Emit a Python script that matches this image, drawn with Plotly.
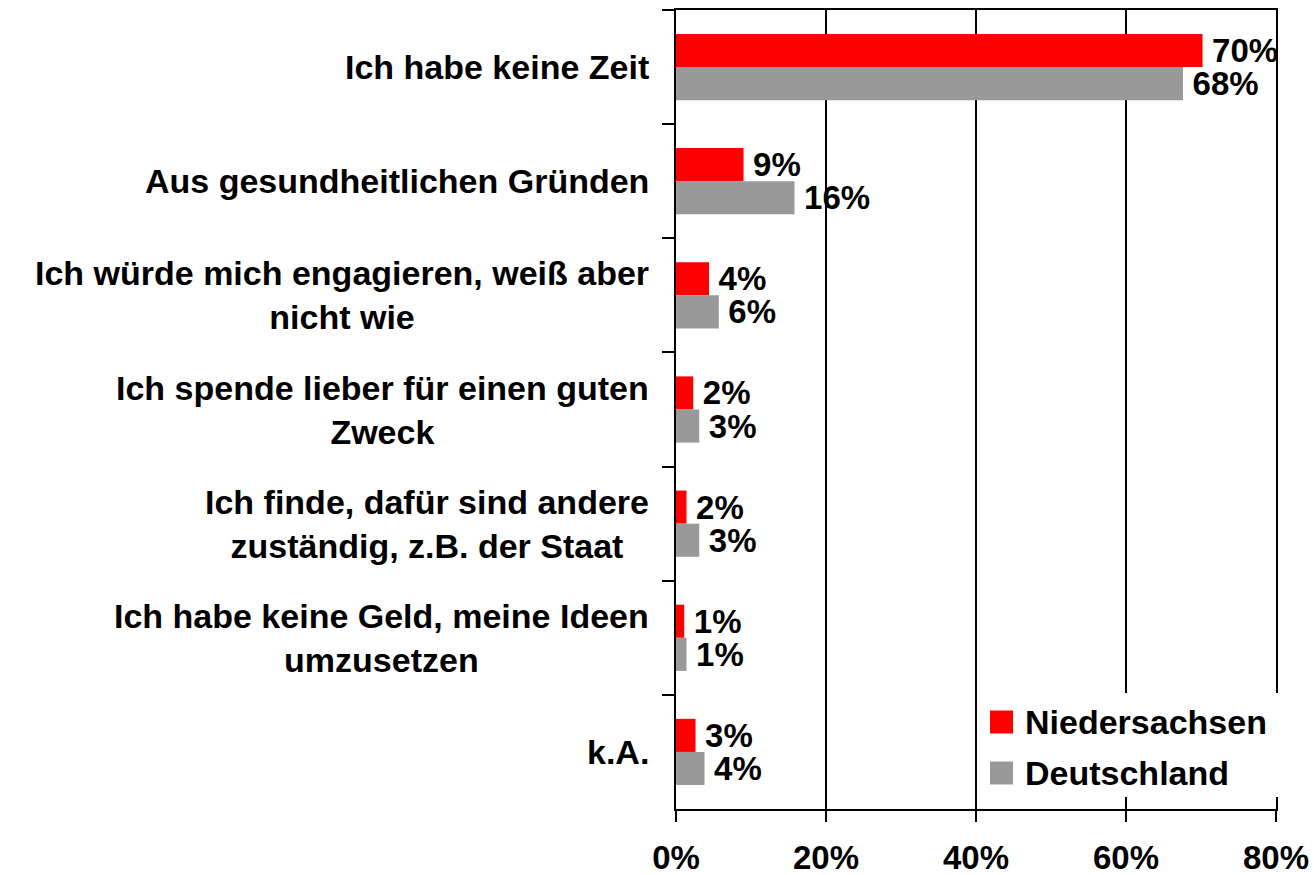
import plotly.graph_objects as go

categories = [
    "Ich habe keine Zeit",
    "Aus gesundheitlichen Gründen",
    "Ich würde mich engagieren, weiß aber<br>nicht wie",
    "Ich spende lieber für einen guten<br>Zweck",
    "Ich finde, dafür sind andere<br>zuständig, z.B. der Staat",
    "Ich habe keine Geld, meine Ideen<br>umzusetzen",
    "k.A.",
]
niedersachsen = [70.2, 9.0, 4.4, 2.3, 1.4, 1.1, 2.6]
deutschland = [67.6, 15.8, 5.7, 3.1, 3.1, 1.4, 3.8]
niedersachsen_labels = ["70%", "9%", "4%", "2%", "2%", "1%", "3%"]
deutschland_labels = ["68%", "16%", "6%", "3%", "3%", "1%", "4%"]
series_names = ["Niedersachsen", "Deutschland"]
x_ticks = [0, 20, 40, 60, 80]
x_ticklabels = ["0%", "20%", "40%", "60%", "80%"]

RED = "#FF0000"
GRAY = "#999999"
FONT = "Liberation Sans"

W, H = 1314, 875
ML, MR, MT, MB = 676, 38, 10, 66
PW, PH = W - ML - MR, H - MT - MB


def px_x(px):
    return (px - ML) / PW


def px_y(py):
    return (H - MB - py) / PH


GAP = "\u2009"
fig = go.Figure()
for name, vals, labs, col in [
    (series_names[0], niedersachsen, niedersachsen_labels, RED),
    (series_names[1], deutschland, deutschland_labels, GRAY),
]:
    fig.add_trace(go.Bar(
        name=name, y=categories, x=vals, orientation="h",
        marker=dict(color=col, line=dict(width=0)),
        text=[GAP + t for t in labs], textposition="outside",
        textfont=dict(family=FONT, size=33, color="black", weight="bold"),
        constraintext="none", cliponaxis=False, showlegend=False,
    ))

annotations = []
for c in categories:
    annotations.append(dict(
        x=0, xref="paper", y=c, yref="y", xanchor="right", yanchor="middle",
        xshift=-25, text=c, showarrow=False, align="center",
        font=dict(family=FONT, size=34, color="black", weight="bold"),
    ))

shapes = [dict(type="rect", xref="paper", yref="paper",
               x0=px_x(977), x1=px_x(1292), y0=px_y(797), y1=px_y(693),
               fillcolor="white", line=dict(width=0), layer="above")]
for i, (name, col) in enumerate(zip(series_names, [RED, GRAY])):
    cy = 722 + i * 51
    shapes.append(dict(type="rect", xref="paper", yref="paper",
                       x0=px_x(990), x1=px_x(1013), y0=px_y(cy + 11.5), y1=px_y(cy - 11.5),
                       fillcolor=col, line=dict(width=0), layer="above"))
    annotations.append(dict(x=px_x(1023), xref="paper", y=px_y(cy), yref="paper",
                            xanchor="left", yanchor="middle", text=name, showarrow=False,
                            font=dict(family=FONT, size=34, color="black", weight="bold")))

fig.update_layout(
    width=W, height=H,
    margin=dict(l=ML, r=MR, t=MT, b=MB, pad=0, autoexpand=False),
    paper_bgcolor="white", plot_bgcolor="white",
    barmode="group", bargap=0.42, bargroupgap=0,
    font=dict(family=FONT, color="black"),
    shapes=shapes, annotations=annotations,
    xaxis=dict(
        range=[0, 80], tickvals=x_ticks, ticktext=x_ticklabels,
        showgrid=True, gridcolor="black", gridwidth=1.5,
        showline=True, linecolor="black", linewidth=1.5, mirror=True,
        ticks="outside", ticklen=11, tickwidth=1.5, tickcolor="black",
        tickfont=dict(family=FONT, size=33, color="black", weight="bold"),
        ticklabelstandoff=8, zeroline=False, fixedrange=True, automargin=False,
    ),
    yaxis=dict(
        categoryorder="array", categoryarray=categories, autorange="reversed",
        showticklabels=False, tickson="boundaries",
        showline=True, linecolor="black", linewidth=1.5, mirror=True,
        ticks="outside", ticklen=12, tickwidth=1.5, tickcolor="black",
        showgrid=False, zeroline=False, fixedrange=True, automargin=False,
    ),
)

fig.write_html(
    "out.html",
    config={"displayModeBar": False},
    post_script="document.body.style.margin='0';document.body.style.overflow='hidden';",
)
